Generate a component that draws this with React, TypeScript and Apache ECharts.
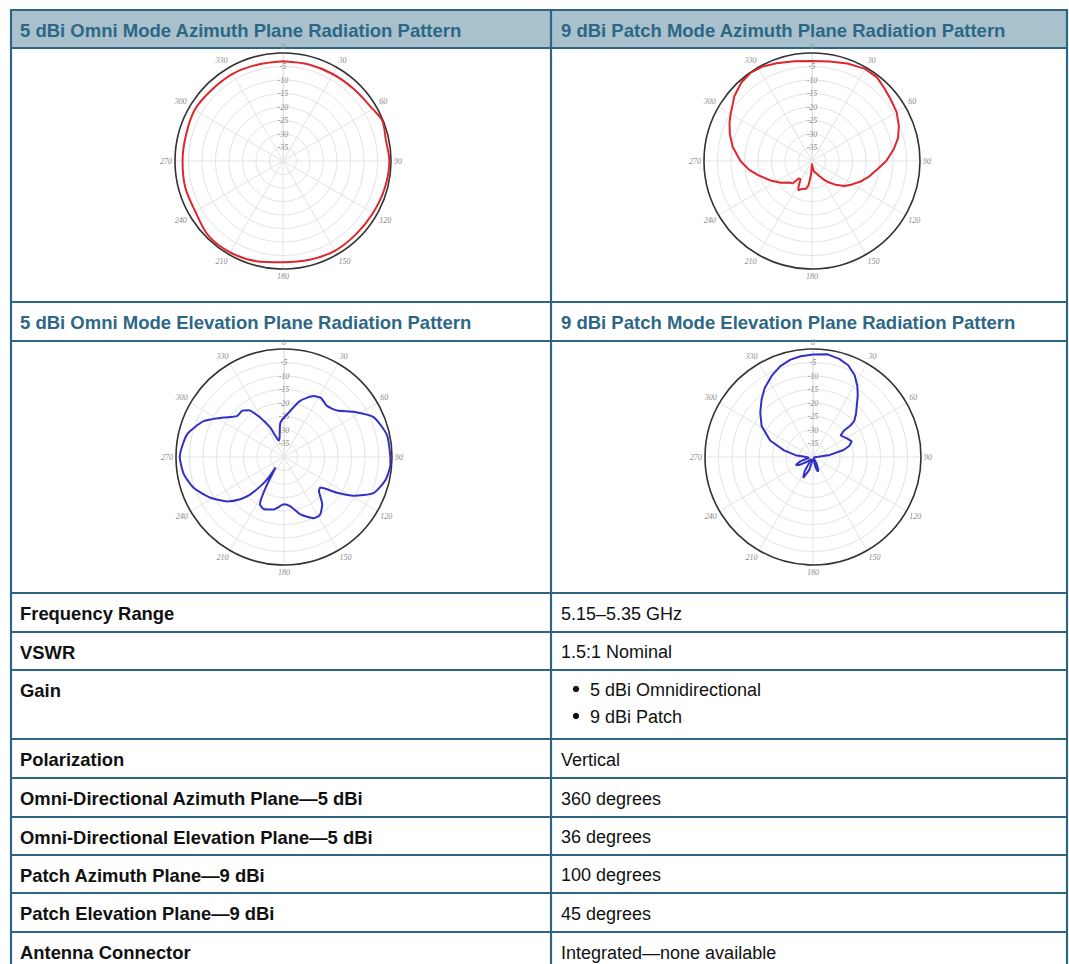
import React, { useEffect, useRef } from "react";
import * as echarts from "echarts";

// ---------- DATA ----------
// radiation patterns: [angle in degrees, gain in dB]
const omniAzimuth: [number, number][] = [
  [0, -3.1], [15, -3.0], [30, -2.9], [45, -2.6], [60, -1.6], [68, -0.3], [78, -1.1],
  [90, -0.6], [105, -1.0], [120, -1.5], [135, -1.7], [150, -1.6], [165, -2.1],
  [180, -2.5], [195, -1.6], [210, -0.9], [225, -0.9], [240, -2.5], [255, -2.5],
  [270, -2.8], [285, -2.8], [300, -2.2], [315, -2.7], [330, -2.7], [345, -3.1], [360, -3.1],
];

const patchAzimuth: [number, number][] = [
  [0, -3], [10, -2.6], [20, -1.6], [30, -0.6], [38, -0.8], [45, -2], [52, -3], [60, -3.8],
  [68, -5.3], [75, -7], [82, -9.5], [90, -12.5], [97, -15.5], [105, -18], [113, -20.5],
  [121, -23], [128, -25], [135, -27.5], [142, -30], [148, -32], [155, -34], [163, -35.5],
  [170, -36], [176, -38], [180, -39], [184, -35], [188, -31], [192, -29.5], [200, -29],
  [205, -28], [208, -29.5], [212, -32], [217, -32], [221, -29], [226, -28.5], [235, -26],
  [245, -23], [255, -19.5], [262, -16.5], [270, -13.5], [280, -10.2], [288, -8],
  [295, -6.3], [300, -5.2], [310, -2.5], [318, -0.9], [325, -0.2], [332, -0.5],
  [340, -1.5], [350, -2.5], [360, -3],
];

const omniElevation: [number, number][] = [
  [90, -0.6], [94, -0.5], [103, -1.5], [112, -4.3], [119, -10.4], [124, -16.3],
  [130, -22.4], [134, -22], [141, -17.5], [148, -14.8], [154, -14.8], [164, -17.9],
  [173, -21.7], [180, -22.5], [191, -20.2], [201, -19.3], [207, -20.4], [211, -27],
  [219, -35], [217, -30], [219, -26], [222, -21.4], [226, -17.5], [232, -13.3],
  [241, -8.9], [251, -4.7], [260, -2.4], [270, -1.4], [283, -3.1], [294, -7.4],
  [303, -13.2], [311, -16.9], [318, -16.9], [323, -18.3], [329, -23], [335, -28],
  [338, -31.6], [342, -33.6], [347, -32.7], [354, -27.2], [6, -23.5], [16, -18.4],
  [26, -14.9], [32, -14.2], [40, -15.3], [49, -13.8], [57, -9.3], [66, -3.7],
  [78, -1], [90, -0.6],
];

const patchElevation: [number, number][] = [
  [0, -2], [8, -1.6], [15, -2.4], [21, -3.6], [27, -6], [32, -9], [36, -11.8],
  [40, -14.7], [45, -17.5], [49, -19.8], [50, -22], [49.5, -25], [52, -27], [56, -26.5],
  [61, -25.7], [68, -24.5], [73, -26], [77, -28.4], [83, -33.7], [88, -38],
  [100, -39.5], [145, -39.5], [152, -37], [158, -34.8], [162, -34.3], [166, -36],
  [172, -39.2], [186, -39], [196, -35], [205, -31.5], [211, -34], [218, -39],
  [232, -37], [240, -34], [245, -33], [251, -35], [260, -38.5], [270, -37.5],
  [276, -33.5], [283, -29], [291, -23], [301, -17.8], [310, -14.5], [318, -11.5],
  [325, -8.8], [333, -6.3], [340, -4.3], [347, -3], [353, -2.4], [360, -2],
];

const headerRow1 = [
  "5 dBi Omni Mode Azimuth Plane Radiation Pattern",
  "9 dBi Patch Mode Azimuth Plane Radiation Pattern",
];
const headerRow2 = [
  "5 dBi Omni Mode Elevation Plane Radiation Pattern",
  "9 dBi Patch Mode Elevation Plane Radiation Pattern",
];
const specLabels = [
  "Frequency Range",
  "VSWR",
  "Gain",
  "Polarization",
  "Omni-Directional Azimuth Plane—5 dBi",
  "Omni-Directional Elevation Plane—5 dBi",
  "Patch Azimuth Plane—9 dBi",
  "Patch Elevation Plane—9 dBi",
  "Antenna Connector",
];
const specValues: string[][] = [
  ["5.15–5.35 GHz"],
  ["1.5:1 Nominal"],
  ["5 dBi Omnidirectional", "9 dBi Patch"],
  ["Vertical"],
  ["360 degrees"],
  ["36 degrees"],
  ["100 degrees"],
  ["45 degrees"],
  ["Integrated—none available"],
];

// ---------- LAYOUT ----------
const rowEdges = [10, 48, 302, 341, 593, 632, 670, 739, 778, 817, 855, 893, 932, 971];
const xLeft = 11;
const xMid = 551;
const xRight = 1067;
const borderColor = "#2f6483";
const headerBg = "#a9c1cd";
const headerText = "#2d6786";
const polarCenters: [number, number][] = [
  [283, 161],
  [812, 161],
  [284, 457],
  [813, 457],
];
const polarRadius = 108;
const patterns = [omniAzimuth, patchAzimuth, omniElevation, patchElevation];
const patternColors = ["#e0262d", "#e0262d", "#3131c6", "#3131c6"];
const patternSmooth = [0.3, false, 0.2, false];

const FONT_H = 'bold 18.5px "Liberation Sans", Arial, sans-serif';
const FONT_B = 'bold 18.4px "Liberation Sans", Arial, sans-serif';
const FONT_R = '18px "Liberation Sans", Arial, sans-serif';

function buildGraphic() {
  const els: any[] = [];
  els.push({
    type: "rect",
    shape: { x: xLeft, y: rowEdges[0], width: xRight - xLeft, height: rowEdges[1] - rowEdges[0] },
    style: { fill: headerBg },
    silent: true,
  });
  rowEdges.forEach((y) => {
    els.push({
      type: "line",
      shape: { x1: xLeft - 1, y1: y, x2: xRight + 1, y2: y },
      style: { stroke: borderColor, lineWidth: 2.2 },
      silent: true,
    });
  });
  [xLeft, xMid, xRight].forEach((x) => {
    els.push({
      type: "line",
      shape: { x1: x, y1: rowEdges[0], x2: x, y2: rowEdges[rowEdges.length - 1] },
      style: { stroke: borderColor, lineWidth: 2.2 },
      silent: true,
    });
  });
  const colX = [xLeft + 9, xMid + 10];
  const hdrRows = [
    { texts: headerRow1, y: (rowEdges[0] + rowEdges[1]) / 2 },
    { texts: headerRow2, y: (rowEdges[2] + rowEdges[3]) / 2 },
  ];
  hdrRows.forEach((r) => {
    r.texts.forEach((t, i) => {
      els.push({
        type: "text",
        x: colX[i],
        y: r.y + 1,
        style: { text: t, font: FONT_H, fill: headerText, align: "left", verticalAlign: "middle" },
        silent: true,
      });
    });
  });
  specLabels.forEach((label, i) => {
    const top = rowEdges[4 + i];
    const bottom = rowEdges[5 + i];
    const vals = specValues[i];
    if (vals.length === 1) {
      const cy = (top + bottom) / 2 + 1;
      els.push({
        type: "text", x: colX[0], y: cy,
        style: { text: label, font: FONT_B, fill: "#111", align: "left", verticalAlign: "middle" },
        silent: true,
      });
      els.push({
        type: "text", x: colX[1], y: cy,
        style: { text: vals[0], font: FONT_R, fill: "#111", align: "left", verticalAlign: "middle" },
        silent: true,
      });
    } else {
      const firstY = top + 20;
      els.push({
        type: "text", x: colX[0], y: firstY,
        style: { text: label, font: FONT_B, fill: "#111", align: "left", verticalAlign: "middle" },
        silent: true,
      });
      vals.forEach((v, j) => {
        const y = firstY + j * 27;
        els.push({
          type: "circle",
          shape: { cx: xMid + 25, cy: y - 1, r: 3.2 },
          style: { fill: "#111" },
          silent: true,
        });
        els.push({
          type: "text", x: xMid + 39, y,
          style: { text: v, font: FONT_R, fill: "#111", align: "left", verticalAlign: "middle" },
          silent: true,
        });
      });
    }
  });
  return els;
}

export default function App() {
  const ref = useRef<HTMLDivElement>(null);
  useEffect(() => {
    if (!ref.current) return;
    const chart = echarts.init(ref.current, null, { renderer: "svg" });
    const labelFont = {
      color: "#8a8a8a",
      fontSize: 8,
      fontStyle: "italic" as const,
      fontFamily: '"Liberation Serif", "DejaVu Serif", serif',
    };
    const option: any = {
      animation: false,
      backgroundColor: "#ffffff",
      polar: polarCenters.map(([cx, cy]) => ({ center: [cx, cy], radius: polarRadius })),
      angleAxis: polarCenters.map((_, i) => ({
        polarIndex: i,
        type: "value",
        min: 0,
        max: 360,
        interval: 30,
        startAngle: 90,
        clockwise: true,
        axisLine: { show: true, lineStyle: { color: "#333333", width: 1.6 } },
        axisTick: { show: false },
        axisLabel: {
          ...labelFont,
          margin: 3,
          formatter: (v: number) => (v === 360 ? "" : String(v)),
        },
        splitLine: { show: true, lineStyle: { color: "#e3e3e3", width: 1 } },
        z: 1,
      })),
      radiusAxis: polarCenters.map((_, i) => ({
        polarIndex: i,
        type: "value",
        min: -40,
        max: 0,
        interval: 5,
        axisLine: { show: true, lineStyle: { color: "#e3e3e3", width: 1 } },
        axisTick: { show: false },
        axisLabel: {
          ...labelFont,
          margin: 0,
          align: "center",
          verticalAlign: "middle",
          formatter: (v: number) => (v === 0 || v === -40 ? "" : String(v)),
        },
        splitLine: { show: true, lineStyle: { color: "#e3e3e3", width: 1 } },
        z: 1,
      })),
      series: patterns.map((p, i) => ({
        type: "line",
        coordinateSystem: "polar",
        polarIndex: i,
        data: p.map(([a, d]) => [d, a]),
        symbol: "none",
        showSymbol: false,
        smooth: patternSmooth[i],
        lineStyle: { color: patternColors[i], width: 2 },
        silent: true,
        z: 3,
      })),
      graphic: { elements: buildGraphic() },
    };
    chart.setOption(option);
    return () => chart.dispose();
  }, []);
  return (
    <div
      ref={ref}
      style={{ position: "absolute", left: 0, top: 0, width: 1069, height: 964, background: "#fff" }}
    />
  );
}
